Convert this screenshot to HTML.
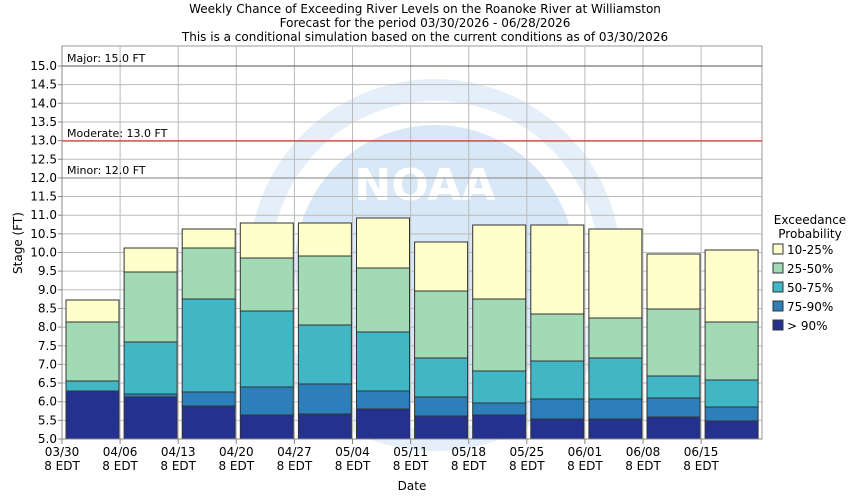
<!DOCTYPE html>
<html><head><meta charset="utf-8"><style>body{margin:0;background:#fff}svg{display:block}text{font-family:"DejaVu Sans","Liberation Sans",sans-serif;font-size:12px;fill:#000}</style></head><body>
<svg width="850" height="500" xmlns="http://www.w3.org/2000/svg">
<text x="425" y="13" text-anchor="middle">Weekly Chance of Exceeding River Levels on the Roanoke River at Williamston</text>
<text x="425" y="27" text-anchor="middle">Forecast for the period 03/30/2026 - 06/28/2026</text>
<text x="425" y="41" text-anchor="middle">This is a conditional simulation based on the current conditions as of 03/30/2026</text>
<rect x="62" y="46" width="700" height="393" fill="#fff" stroke="#999"/>
<g opacity="0.55">
<circle cx="435" cy="265" r="140" fill="#b9d6f2"/>
<circle cx="435" cy="265" r="175" fill="none" stroke="#cfe2f6" stroke-width="22"/>
<text x="425" y="200" text-anchor="middle" style="font-size:44px;font-weight:bold;fill:#fff">NOAA</text>
</g>
<g id="grid" stroke="#bbb" stroke-width="1"></g>
<g id="bars"></g>
<line x1="62" y1="66" x2="762" y2="66" stroke="#555"/>
<line x1="62" y1="141" x2="762" y2="141" stroke="#e00"/>
<line x1="62" y1="178" x2="762" y2="178" stroke="#888"/>
<text x="67" y="62" style="font-size:11px">Major: 15.0 FT</text>
<text x="67" y="137" style="font-size:11px">Moderate: 13.0 FT</text>
<text x="67" y="174" style="font-size:11px">Minor: 12.0 FT</text>
<line x1="62" y1="46" x2="62" y2="439" stroke="#888"/>
<line x1="62" y1="439" x2="762" y2="439" stroke="#888"/>
<g id="yl"></g><g id="xl"></g>
<text transform="translate(22,243) rotate(-90)" text-anchor="middle">Stage (FT)</text>
<text x="412" y="490" text-anchor="middle">Date</text>
<text x="810" y="224" text-anchor="middle">Exceedance</text>
<text x="810" y="238" text-anchor="middle">Probability</text>
<g id="leg"></g>
</svg>
<script>
var ns="http://www.w3.org/2000/svg";
function el(p,t,a,tx){var e=document.createElementNS(ns,t);for(var k in a)e.setAttribute(k,a[k]);if(tx)e.textContent=tx;document.getElementById(p).appendChild(e);}
for(var i=0;i<=20;i++){var y=439-i*18.65;el('grid','line',{x1:62,x2:762,y1:y,y2:y});el('yl','text',{x:57,y:y+4,'text-anchor':'end'},(5+i*0.5).toFixed(1));el('yl','line',{x1:58,x2:62,y1:y,y2:y,stroke:'#888'});}
var d=["03/30","04/06","04/13","04/20","04/27","05/04","05/11","05/18","05/25","06/01","06/08","06/15"];
for(var i=0;i<12;i++){var x=62+58.1*i;el('grid','line',{x1:x,x2:x,y1:46,y2:439});el('xl','text',{x:x,y:456,'text-anchor':'middle'},d[i]);el('xl','text',{x:x,y:470,'text-anchor':'middle'},'8 EDT');el('xl','line',{x1:x,x2:x,y1:439,y2:444,stroke:'#888'});}
var c=["#24318f","#2c7fb8","#41b6c4","#a1dab4","#ffffcc"];
var B=[[391,391,381,322,300],[397,394,342,272,248],[406,392,299,248,229],[415,387,311,258,223],[414,384,325,256,223],[409,391,332,268,218],[416,397,358,291,242],[415,403,371,299,225],[419,399,361,314,225],[419,399,358,318,229],[417,398,376,309,254],[421,407,380,322,250]];
for(var i=0;i<12;i++){var x=66+58.1*i,prev=439;for(var j=0;j<5;j++){var t=B[i][j];if(prev-t>0)el('bars','rect',{x:x,y:t,width:53,height:prev-t,fill:c[j],stroke:'#333','stroke-width':1});prev=t;}}
var L=["10-25%","25-50%","50-75%","75-90%","> 90%"],lc=[c[4],c[3],c[2],c[1],c[0]];
for(var i=0;i<5;i++){var y=244+i*19;el('leg','rect',{x:773,y:y,width:10,height:10,fill:lc[i],stroke:'#333'});el('leg','text',{x:787,y:y+10},L[i]);}
</script>
</body></html>
